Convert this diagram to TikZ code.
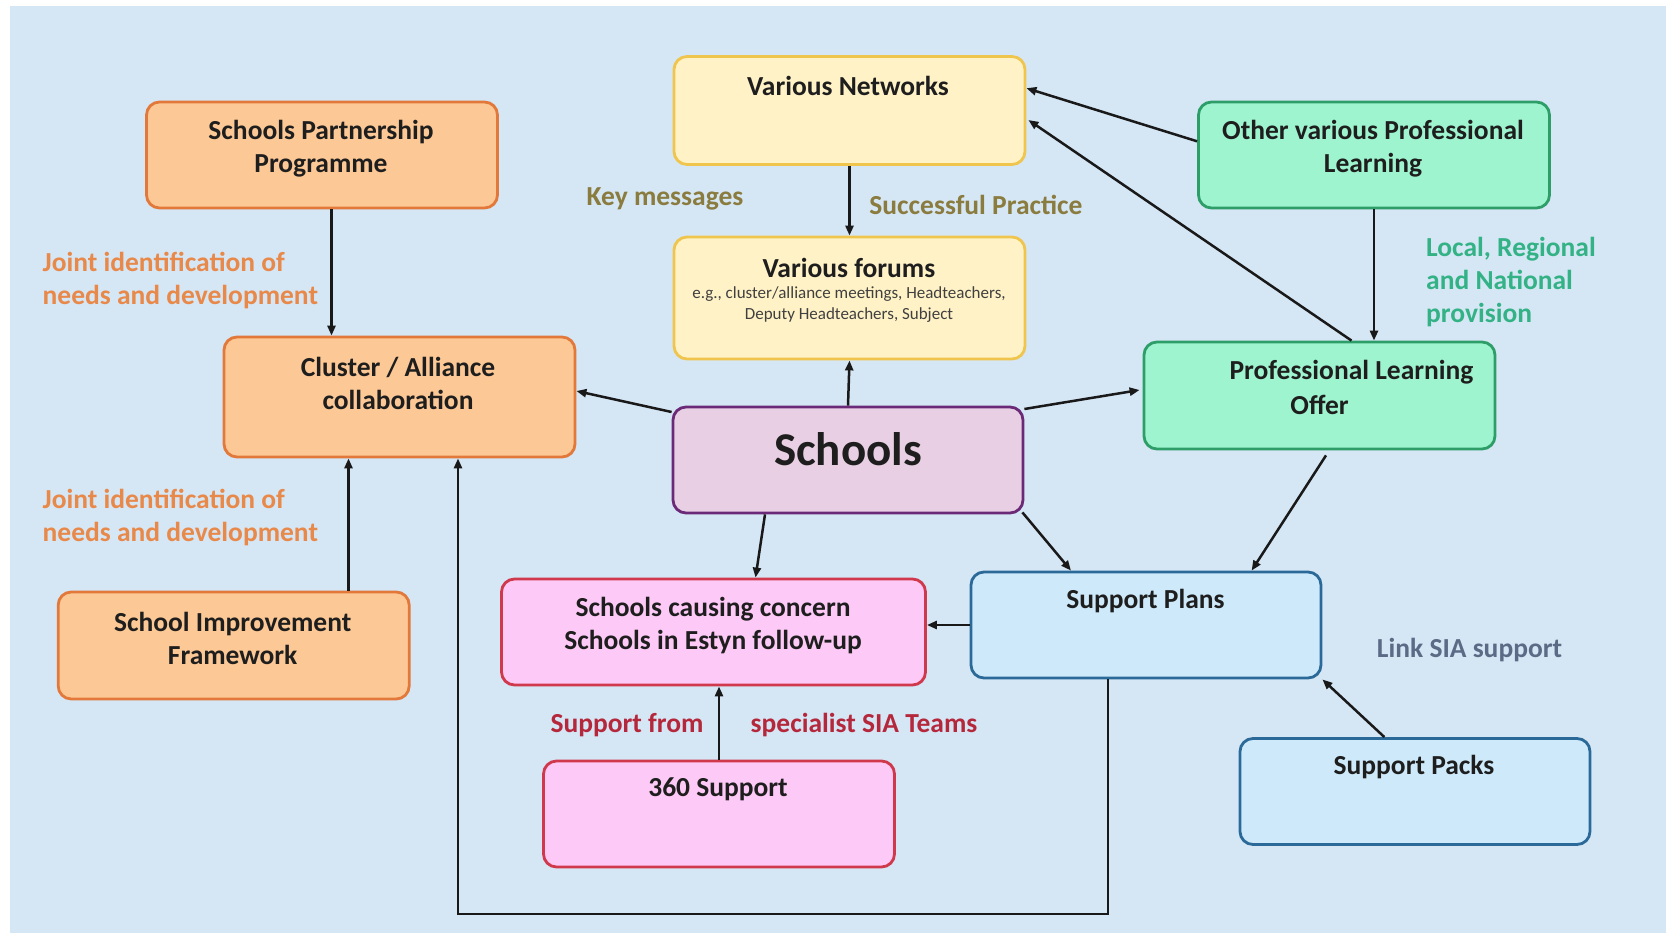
\documentclass[tikz,border=0pt]{standalone}
\usepackage{fontspec}
\setmainfont{Carlito}
\usetikzlibrary{arrows.meta}
\definecolor{bgblue}{HTML}{D5E6F5}
\definecolor{orfill}{HTML}{FCC895}
\definecolor{ordraw}{HTML}{E2793A}
\definecolor{yefill}{HTML}{FFF2C6}
\definecolor{yedraw}{HTML}{EFC54E}
\definecolor{grfill}{HTML}{9EF4CF}
\definecolor{grdraw}{HTML}{2E9E68}
\definecolor{mafill}{HTML}{E9CFE3}
\definecolor{madraw}{HTML}{6A2A78}
\definecolor{pifill}{HTML}{FDC9F6}
\definecolor{pidraw}{HTML}{D0384C}
\definecolor{blfill}{HTML}{CEE9FA}
\definecolor{bldraw}{HTML}{2B6A98}
\definecolor{txtdark}{HTML}{1E1E1E}
\definecolor{olivelbl}{HTML}{8A7B3E}
\definecolor{orangelbl}{HTML}{E8894A}
\definecolor{greenlbl}{HTML}{33B285}
\definecolor{slatelbl}{HTML}{5B6B85}
\definecolor{redlbl}{HTML}{B5283C}
\tikzset{
  box/.style={draw, line width=2.8pt, rounded corners=13pt, inner sep=0pt,
    minimum width=351pt, minimum height=106pt},
  obox/.style={box, draw=ordraw, fill=orfill},
  ybox/.style={box, draw=yedraw, fill=yefill},
  gbox/.style={box, draw=grdraw, fill=grfill},
  sbox/.style={box, draw=madraw, fill=mafill},
  pbox/.style={box, draw=pidraw, fill=pifill},
  bbox/.style={box, draw=bldraw, fill=blfill},
  txt/.style={font=\fontsize{27.5}{33}\selectfont\bfseries, align=center, inner sep=0pt, text=txtdark, yshift=-2.5pt},
  lbl/.style={font=\fontsize{27.5}{33}\selectfont\bfseries, inner sep=0pt, yshift=-2.5pt},
  arr/.style={line width=2.5pt, draw=black!90, -{Triangle[length=10pt,width=8pt]}},
}
\begin{document}
\begin{tikzpicture}[x=1pt,y=-1pt]
\useasboundingbox (0,0) rectangle (1666,933);
\fill[white] (0,0) rectangle (1666,933);
\fill[bgblue] (10,6) rectangle (1666,933);

% boxes
\node[obox] (spp) at (322,155) {};
\node[ybox, minimum height=108pt] (net) at (849.5,110.5) {};
\node[gbox] (opl) at (1374,155) {};
\node[ybox, minimum height=122pt] (forum) at (849.5,298) {};
\node[obox, minimum height=120pt] (cluster) at (399.5,397) {};
\node[sbox, minimum width=350pt] (schools) at (848,460) {};
\node[gbox, minimum height=107pt] (plo) at (1319.5,395.5) {};
\node[obox, minimum height=107pt] (sif) at (233.7,645.5) {};
\node[pbox, minimum width=424pt] (scc) at (713.5,632) {};
\node[bbox, minimum width=350pt] (sp) at (1146,625) {};
\node[pbox] (s360) at (719,814) {};
\node[bbox, minimum width=350pt] (packs) at (1415,791.5) {};

% box texts
\node[txt] (tspp) at (321,146) {Schools Partnership\\Programme};
\node[txt] (tnet) at (848,83) {Various Networks};
\node[txt] (topl) at (1373,146) {Other various Professional\\Learning};
\node[txt] (tforum) at (849,265.6) {Various forums};
\node[font=\fontsize{17}{21}\selectfont, align=center, inner sep=0pt, text=txtdark!85, yshift=-2pt] (tforumsub) at (849,302.7)
  {e.g., cluster/alliance meetings, Headteachers,\\Deputy Headteachers, Subject};
\node[txt] (tcluster) at (398,381) {Cluster / Alliance\\collaboration};
\node[txt, font=\fontsize{47}{56}\selectfont\bfseries] (tschools) at (848,447) {Schools};
\node[txt] (tplo1) at (1351.5,369.8) {Professional Learning};
\node[txt] (tplo2) at (1319.6,402.7) {Offer};
\node[txt] (tsif) at (232.7,636) {School Improvement\\Framework};
\node[txt] (tscc) at (713,623) {Schools causing concern\\Schools in Estyn follow-up};
\node[txt] (tsp) at (1145.4,599) {Support Plans};
\node[txt] (t360) at (718,787) {360 Support};
\node[txt] (tpacks) at (1414,765) {Support Packs};

% labels
\node[lbl, text=olivelbl] (lkey) at (665,196.6) {Key messages};
\node[lbl, text=olivelbl] (lsucc) at (976,202) {Successful Practice};
\node[lbl, text=orangelbl, align=left, anchor=west] (ljoint1) at (42.5,277.8) {Joint identification of\\needs and development};
\node[lbl, text=orangelbl, align=left, anchor=west] (ljoint2) at (42.5,514.6) {Joint identification of\\needs and development};
\node[lbl, text=greenlbl, align=left, anchor=west] (llocal) at (1426,280) {Local, Regional\\and National\\provision};
\node[lbl, text=slatelbl] (llink) at (1469.5,648) {Link SIA support};
\node[lbl, text=redlbl] (lsupp) at (627,722.5) {Support from};
\node[lbl, text=redlbl] (lspec) at (864,722.5) {specialist SIA Teams};

% connectors
\coordinate (loopbot) at (458,913.75);
\draw[arr] ([xshift=9.5pt]spp.south) -- ([xshift=9.5pt]spp.south |- cluster.north);
\draw[arr] ([xshift=114.8pt]sif.north) -- ([xshift=114.8pt]sif.north |- cluster.south);
\draw[arr, rounded corners=0pt] ([xshift=-38pt]sp.south) |- (loopbot) -- (loopbot |- cluster.south);
\draw[arr] ([yshift=48pt]schools.west) -- ([yshift=6pt]cluster.east);
\draw[arr] (schools.north) -- (forum.south);
\draw[arr] (net.south) -- (forum.north);
\draw[arr] ([yshift=13.7pt]opl.west) -- ([yshift=22.3pt]net.east);
\draw[arr] ([xshift=32pt]plo.north) -- ([yshift=-9.5pt,xshift=2pt]net.east);
\draw[arr] (opl.south) -- (opl.south |- plo.north);
\draw[arr] ([yshift=51pt]schools.east) -- ([yshift=5.5pt,xshift=-3pt]plo.west);
\draw[arr] ([xshift=6.5pt,yshift=-5pt]plo.south) -- ([xshift=105.6pt]sp.north);
\draw[arr] ([xshift=-2pt,yshift=2pt]schools.south east) -- ([xshift=-75pt]sp.north);
\draw[arr] ([xshift=-83pt]schools.south) -- ([xshift=42pt]scc.north);
\draw[arr] (sp.west) -- (sp.west -| scc.east);
\draw[arr] (s360.north) -- (s360.north |- scc.south);
\draw[arr] ([xshift=-30.6pt]packs.north) -- (sp.south east);
\end{tikzpicture}
\end{document}
